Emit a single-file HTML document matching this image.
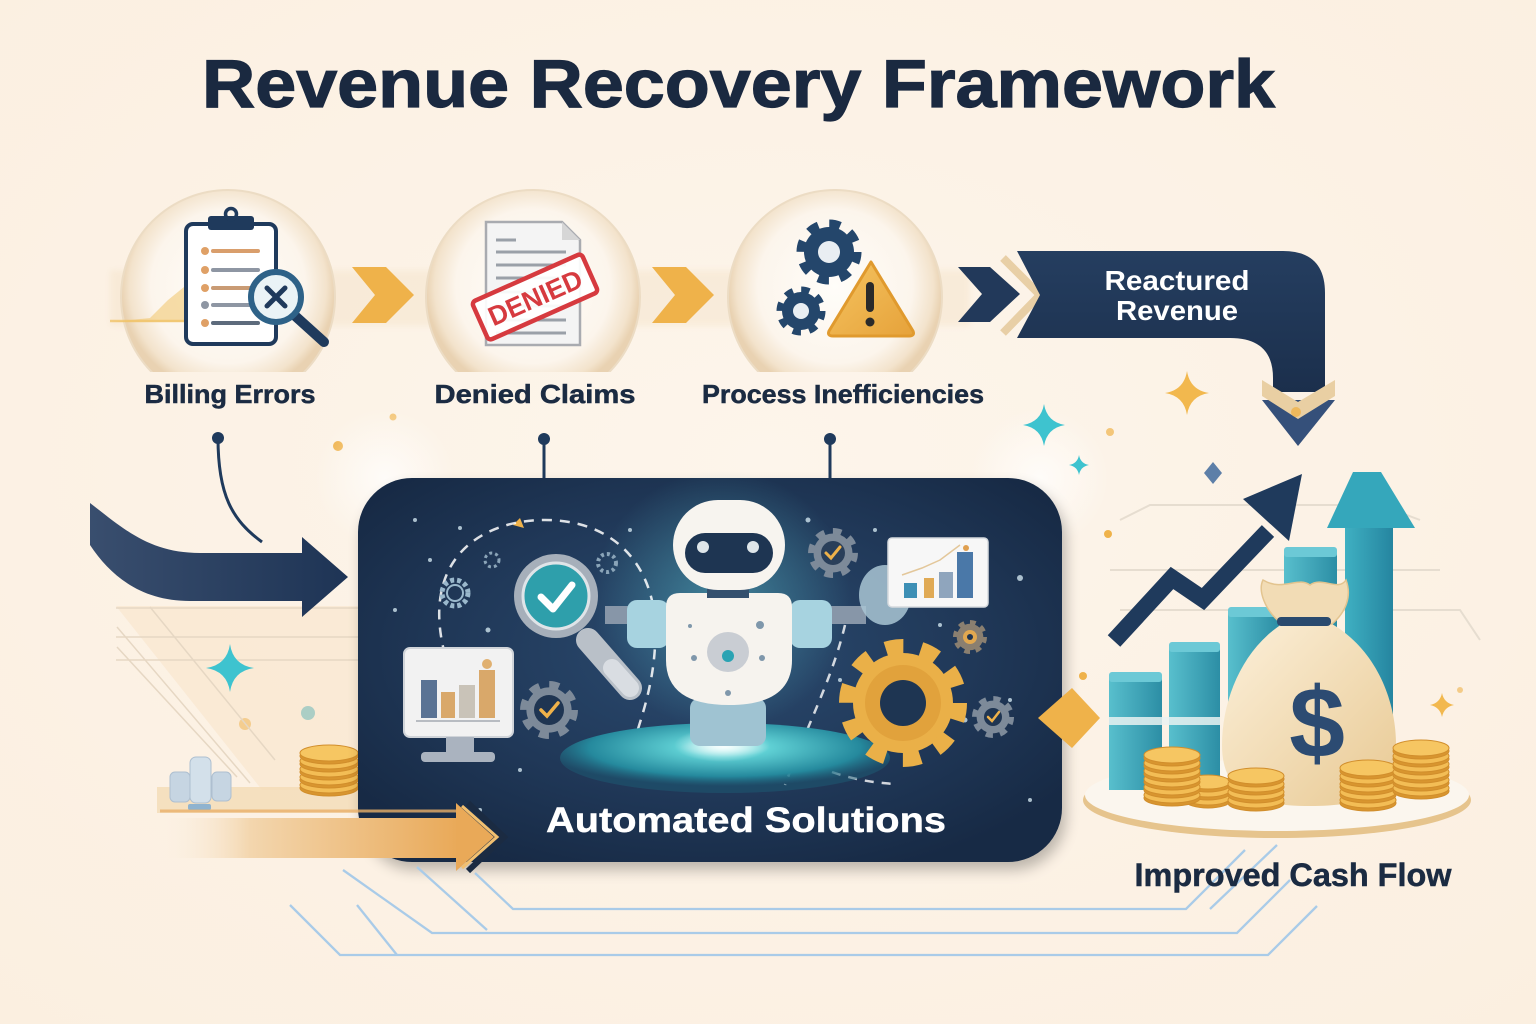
<!DOCTYPE html>
<html><head><meta charset="utf-8"><style>
html,body{margin:0;padding:0;width:1536px;height:1024px;overflow:hidden;background:#fcf1e4}
svg{display:block}
text{font-family:"Liberation Sans",Arial,sans-serif;font-weight:bold}
</style></head><body>
<svg width="1536" height="1024" viewBox="0 0 1536 1024" xmlns="http://www.w3.org/2000/svg">
<defs>
 <radialGradient id="bg" cx="50%" cy="45%" r="75%"><stop offset="0" stop-color="#fdf5eb"/><stop offset="1" stop-color="#fbefe0"/></radialGradient>
 <radialGradient id="cg" cx="50%" cy="45%" r="50%"><stop offset="0" stop-color="#fffdf9"/><stop offset="0.72" stop-color="#fcf5ec"/><stop offset="0.92" stop-color="#f3e3cc"/><stop offset="1" stop-color="#e9d2b2"/></radialGradient>
 <clipPath id="cclip"><rect x="0" y="0" width="1536" height="372"/></clipPath>
 <linearGradient id="navyH" x1="0" y1="0" x2="1" y2="0"><stop offset="0" stop-color="#394e6e"/><stop offset="1" stop-color="#1e3455"/></linearGradient>
 <linearGradient id="navyV" x1="0" y1="0" x2="0" y2="1"><stop offset="0" stop-color="#253e60"/><stop offset="1" stop-color="#1b2f4c"/></linearGradient>
 <radialGradient id="boxG" cx="50%" cy="45%" r="62%"><stop offset="0" stop-color="#2b4b70"/><stop offset="0.6" stop-color="#203858"/><stop offset="1" stop-color="#172a45"/></radialGradient>
 <radialGradient id="platG" cx="50%" cy="35%" r="55%"><stop offset="0" stop-color="#d5fbf8"/><stop offset="0.25" stop-color="#5fd0d4"/><stop offset="0.75" stop-color="#25899d"/><stop offset="1" stop-color="#1d5c75" stop-opacity="0.5"/></radialGradient>
 <radialGradient id="glowW"><stop offset="0" stop-color="#ffffff" stop-opacity="0.9"/><stop offset="1" stop-color="#ffffff" stop-opacity="0"/></radialGradient>
 <radialGradient id="glowT"><stop offset="0" stop-color="#5fd0d8" stop-opacity="0.45"/><stop offset="1" stop-color="#5fd0d8" stop-opacity="0"/></radialGradient>
 <linearGradient id="orArrow" x1="0" y1="0" x2="1" y2="0"><stop offset="0" stop-color="#fcf1e4" stop-opacity="0"/><stop offset="0.3" stop-color="#f3d6ae"/><stop offset="1" stop-color="#e9a958"/></linearGradient>
 <linearGradient id="tealBar" x1="0" y1="0" x2="1" y2="0"><stop offset="0" stop-color="#58bfcd"/><stop offset="1" stop-color="#2c8ea5"/></linearGradient>
 <linearGradient id="tealArr" x1="0" y1="0" x2="1" y2="0"><stop offset="0" stop-color="#3fb0c2"/><stop offset="1" stop-color="#2585a0"/></linearGradient>
 <linearGradient id="bagG" x1="0" y1="0" x2="1" y2="1"><stop offset="0" stop-color="#fcf0da"/><stop offset="1" stop-color="#e8c993"/></linearGradient>
 <linearGradient id="orG" x1="0" y1="0" x2="1" y2="1"><stop offset="0" stop-color="#f5c461"/><stop offset="1" stop-color="#e6a23a"/></linearGradient>
 <filter id="sh" x="-10%" y="-10%" width="120%" height="130%"><feGaussianBlur stdDeviation="7"/></filter>
 <filter id="blur3"><feGaussianBlur stdDeviation="3"/></filter>
</defs>

<rect width="1536" height="1024" fill="url(#bg)"/>

<!-- Title -->
<text x="202" y="107" font-size="68" fill="#1a2940" stroke="#1a2940" stroke-width="1.2" textLength="1073" lengthAdjust="spacingAndGlyphs">Revenue Recovery Framework</text>

<!-- band behind circles -->
<rect x="110" y="270" width="860" height="56" fill="#f4e2c8" opacity="0.45" filter="url(#blur3)"/>

<!-- Circles -->
<g clip-path="url(#cclip)">
 <circle cx="228" cy="297" r="107" fill="url(#cg)" stroke="#ecdcc4" stroke-width="2"/>
 <circle cx="533" cy="297" r="107" fill="url(#cg)" stroke="#ecdcc4" stroke-width="2"/>
 <circle cx="835" cy="297" r="107" fill="url(#cg)" stroke="#ecdcc4" stroke-width="2"/>
</g>

<!-- Circle 1 : clipboard -->
<path d="M112,322 L150,318 L168,300 L184,287 L196,300 L206,322 Z" fill="#f1c46a" opacity="0.55"/>
<line x1="110" y1="321" x2="206" y2="321" stroke="#f1c46a" stroke-width="2.5" opacity="0.8"/>
<rect x="186" y="224" width="90" height="120" rx="7" fill="#ffffff" stroke="#1f3a5c" stroke-width="4"/>
<rect x="208" y="216" width="46" height="14" rx="3" fill="#1f3a5c"/>
<circle cx="231" cy="214" r="5.5" fill="none" stroke="#1f3a5c" stroke-width="3.5"/>
<g stroke-width="4" stroke-linecap="round">
 <circle cx="205" cy="251" r="4" fill="#dfa066"/><line x1="213" y1="251" x2="258" y2="251" stroke="#d99e6c"/>
 <circle cx="205" cy="270" r="4" fill="#dfa066"/><line x1="213" y1="270" x2="258" y2="270" stroke="#8e96a3"/>
 <circle cx="205" cy="288" r="4" fill="#dfa066"/><line x1="213" y1="288" x2="250" y2="288" stroke="#c99b74"/>
 <circle cx="205" cy="305" r="4" fill="#8e96a3"/><line x1="213" y1="305" x2="250" y2="305" stroke="#8e96a3"/>
 <circle cx="205" cy="323" r="4" fill="#dfa066"/><line x1="213" y1="323" x2="258" y2="323" stroke="#5d6b7c"/>
</g>
<line x1="293" y1="314" x2="324" y2="342" stroke="#1f3a5c" stroke-width="10" stroke-linecap="round"/>
<circle cx="276" cy="297" r="25" fill="#eaf3f6" stroke="#2e6288" stroke-width="6"/>
<path d="M267,288 L285,306 M285,288 L267,306" stroke="#1f3a5c" stroke-width="5" stroke-linecap="round"/>

<!-- Circle 2 : document + stamp -->
<path d="M486,222 H562 L580,240 V345 H486 Z" fill="#f4f4f4" stroke="#a9abb0" stroke-width="2.5"/>
<path d="M562,222 V240 H580 Z" fill="#d6d6d6"/>
<g stroke="#9aa0a8" stroke-width="3">
 <line x1="496" y1="240" x2="516" y2="240"/><line x1="496" y1="252" x2="566" y2="252"/>
 <line x1="496" y1="265" x2="566" y2="265"/><line x1="496" y1="278" x2="566" y2="278"/>
 <line x1="496" y1="292" x2="566" y2="292"/><line x1="496" y1="306" x2="566" y2="306"/>
 <line x1="496" y1="320" x2="566" y2="320"/><line x1="496" y1="333" x2="566" y2="333"/>
</g>
<g transform="rotate(-24 535 297)">
 <rect x="475" y="276" width="120" height="42" rx="4" fill="#ffffff" fill-opacity="0.92" stroke="#d63a3f" stroke-width="4.5"/>
 <text x="535" y="307" font-size="27" fill="#d63a3f" text-anchor="middle" textLength="100" lengthAdjust="spacingAndGlyphs">DENIED</text>
</g>

<!-- Circle 3 : gears + warning -->
<g fill="#24466b">
 <circle cx="829" cy="252" r="25"/>
 <circle cx="829" cy="252" r="28" fill="none" stroke="#24466b" stroke-width="9" stroke-dasharray="11 11"/>
 <circle cx="801" cy="311" r="19"/>
 <circle cx="801" cy="311" r="21" fill="none" stroke="#24466b" stroke-width="7" stroke-dasharray="8.25 8.25"/>
</g>
<circle cx="829" cy="252" r="11" fill="#e9eef2"/>
<circle cx="801" cy="311" r="8" fill="#e9eef2"/>
<path d="M871,262 L913,331 Q915,336 909,336 L833,336 Q827,336 829,331 Z" fill="url(#orG)" stroke="#e09a2e" stroke-width="3" stroke-linejoin="round"/>
<rect x="866" y="282" width="8" height="30" rx="4" fill="#2a2a2a"/>
<circle cx="870" cy="322" r="4.5" fill="#2a2a2a"/>

<!-- chevrons -->
<polygon points="352,267 386,267 414,295 386,323 352,323 375,295" fill="#efb24a"/>
<polygon points="652,267 686,267 714,295 686,323 652,323 675,295" fill="#efb24a"/>
<polygon points="958,267 990,267 1020,294 990,322 958,322 982,294" fill="#22395a"/>
<polyline points="1003,258 1040,295 1003,333" fill="none" stroke="#e8cfa6" stroke-width="8"/>

<!-- Reactured Revenue banner -->
<path d="M1017,251 L1283,251 Q1325,251 1325,293 L1325,392 L1273,392 L1273,378 Q1273,338 1230,338 L1017,338 L1040,295 Z" fill="url(#navyV)"/>
<polygon points="1262,400 1335,400 1298,446" fill="#35507a"/>
<polygon points="1262,380 1298,402 1335,380 1335,396 1298,419 1262,396" fill="#e9cfa3"/>
<text x="1177" y="290" font-size="28" fill="#ffffff" text-anchor="middle" textLength="145" lengthAdjust="spacingAndGlyphs">Reactured</text>
<text x="1177" y="320" font-size="28" fill="#ffffff" text-anchor="middle" textLength="122" lengthAdjust="spacingAndGlyphs">Revenue</text>

<!-- Labels -->
<g fill="#1b2b42" stroke="#1b2b42" stroke-width="0.5">
<text x="230" y="403" font-size="26" text-anchor="middle" textLength="171" lengthAdjust="spacingAndGlyphs">Billing Errors</text>
<text x="535" y="403" font-size="26" text-anchor="middle" textLength="201" lengthAdjust="spacingAndGlyphs">Denied Claims</text>
<text x="843" y="403" font-size="26" text-anchor="middle" textLength="282" lengthAdjust="spacingAndGlyphs">Process Inefficiencies</text>
</g>

<!-- connectors -->
<g stroke="#1f3a5c" stroke-width="3" fill="none">
 <path d="M218,438 C218,495 232,520 262,542"/>
 <path d="M544,439 V480"/>
 <path d="M830,439 V480"/>
</g>
<circle cx="218" cy="438" r="6" fill="#1f3a5c"/>
<circle cx="544" cy="439" r="6" fill="#1f3a5c"/>
<circle cx="830" cy="439" r="6" fill="#1f3a5c"/>

<!-- scattered dots -->
<g fill="#efb24a">
 <circle cx="338" cy="446" r="5"/><circle cx="393" cy="417" r="3.5" opacity="0.7"/><circle cx="245" cy="724" r="6"/>
 <circle cx="1110" cy="432" r="4" opacity="0.7"/><circle cx="1296" cy="412" r="5" opacity="0.8"/><circle cx="1108" cy="534" r="4"/>
 <circle cx="1083" cy="676" r="4"/><circle cx="1460" cy="690" r="3" opacity="0.6"/>
</g>
<circle cx="308" cy="713" r="7" fill="#4fb3c2"/>

<!-- left faint area -->
<polygon points="116,606 362,606 362,790 262,790" fill="#f7e3c9" opacity="0.55"/>
<g stroke="#e6d7c3" stroke-width="1.5" fill="none">
 <line x1="116" y1="608" x2="362" y2="608"/><line x1="116" y1="637" x2="362" y2="637"/><line x1="116" y1="660" x2="362" y2="660"/>
 <line x1="117" y1="627" x2="250" y2="783"/><line x1="117" y1="647" x2="237" y2="777"/><line x1="150" y1="607" x2="275" y2="760"/>
</g>
<path d="M230,644 Q233,665 254,668 Q233,671 230,692 Q227,671 206,668 Q227,665 230,644 Z" fill="#3ec3cf"/>

<!-- left big arrow -->
<path d="M90,503 C125,530 150,553 200,553 L302,553 L302,537 L348,577 L302,617 L302,601 L190,601 C140,601 110,575 90,545 Z" fill="url(#navyH)"/>

<!-- left platform, cylinders, coins -->
<rect x="157" y="787" width="205" height="26" fill="#f3d9b3" opacity="0.75"/>
<g fill="#c6d5e2" stroke="#aebfd0" stroke-width="1">
 <rect x="170" y="772" width="20" height="30" rx="5"/>
 <rect x="212" y="772" width="19" height="29" rx="5"/>
 <rect x="190" y="757" width="21" height="46" rx="6" fill="#d3e0ea"/>
</g>
<rect x="188" y="804" width="23" height="6" rx="2" fill="#8fb3cf"/>
<g stroke="#d18e2c" stroke-width="1">
 <ellipse cx="329" cy="788" rx="29" ry="8" fill="#d8952f"/><ellipse cx="329" cy="785" rx="29" ry="8" fill="#f3bd55"/>
 <ellipse cx="329" cy="780" rx="29" ry="8" fill="#d8952f"/><ellipse cx="329" cy="777" rx="29" ry="8" fill="#f3bd55"/>
 <ellipse cx="329" cy="772" rx="29" ry="8" fill="#d8952f"/><ellipse cx="329" cy="769" rx="29" ry="8" fill="#f3bd55"/>
 <ellipse cx="329" cy="764" rx="29" ry="8" fill="#d8952f"/><ellipse cx="329" cy="761" rx="29" ry="8" fill="#f3bd55"/>
 <ellipse cx="329" cy="756" rx="29" ry="8" fill="#d8952f"/><ellipse cx="329" cy="753" rx="29" ry="8" fill="#f6c662"/>
</g>

<!-- glows near box corners -->
<circle cx="385" cy="478" r="70" fill="url(#glowW)" opacity="0.8"/>
<circle cx="1040" cy="478" r="70" fill="url(#glowW)" opacity="0.8"/>

<!-- main box -->
<rect x="362" y="486" width="704" height="384" rx="54" fill="#000" opacity="0.25" filter="url(#sh)"/>
<rect x="358" y="478" width="704" height="384" rx="54" fill="url(#boxG)"/>

<!-- box contents -->
<circle cx="722" cy="600" r="130" fill="url(#glowT)"/>
<g fill="#cfe4ee" opacity="0.8">
 <circle cx="415" cy="520" r="2"/><circle cx="430" cy="560" r="2"/><circle cx="395" cy="610" r="2"/><circle cx="488" cy="630" r="2.5"/>
 <circle cx="460" cy="528" r="2"/><circle cx="630" cy="530" r="2"/><circle cx="808" cy="520" r="2.5"/><circle cx="875" cy="530" r="2"/>
 <circle cx="1020" cy="578" r="3"/><circle cx="1010" cy="700" r="2"/><circle cx="840" cy="680" r="2"/><circle cx="940" cy="625" r="2"/>
 <circle cx="520" cy="770" r="2"/><circle cx="480" cy="810" r="2"/><circle cx="1030" cy="800" r="2"/><circle cx="610" cy="660" r="3" fill="#5ccfd6"/>
 <circle cx="455" cy="650" r="3" fill="#d8b77a"/><circle cx="965" cy="720" r="2.5"/>
</g>
<path d="M513,525 L520,518 L524,528 Z" fill="#efb24a"/>

<!-- dashed arcs -->
<path d="M445,655 C420,560 480,520 545,520 C610,520 650,560 655,620 C658,680 640,720 625,770" fill="none" stroke="#ffffff" stroke-opacity="0.85" stroke-width="2.5" stroke-dasharray="10 8"/>
<path d="M845,625 C832,680 805,730 785,785" fill="none" stroke="#ffffff" stroke-opacity="0.8" stroke-width="2.5" stroke-dasharray="9 8"/>
<path d="M832,772 Q860,782 895,784" fill="none" stroke="#ffffff" stroke-opacity="0.8" stroke-width="2.5" stroke-dasharray="9 8"/>

<!-- small outline gears -->
<circle cx="455" cy="593" r="13" fill="none" stroke="#9ab8cc" stroke-width="5" stroke-dasharray="4 3"/>
<circle cx="455" cy="593" r="8" fill="none" stroke="#9ab8cc" stroke-width="2"/>
<circle cx="607" cy="563" r="9" fill="none" stroke="#8aa4b8" stroke-width="4" stroke-dasharray="3 3"/>
<circle cx="492" cy="560" r="7" fill="none" stroke="#8aa4b8" stroke-width="3" stroke-dasharray="3 3"/>

<!-- platform -->
<ellipse cx="725" cy="758" rx="165" ry="35" fill="url(#platG)"/>
<ellipse cx="722" cy="745" rx="48" ry="17" fill="url(#glowW)"/>

<!-- magnifier -->
<line x1="588" y1="640" x2="630" y2="688" stroke="#b9c0c8" stroke-width="24" stroke-linecap="round"/>
<line x1="612" y1="668" x2="630" y2="688" stroke="#d9dde2" stroke-width="18" stroke-linecap="round"/>
<circle cx="556" cy="596" r="42" fill="#a6afba"/>
<circle cx="556" cy="596" r="33" fill="#2e9fab" stroke="#dfe4e8" stroke-width="3"/>
<path d="M541,597 L553,609 L572,585" fill="none" stroke="#ffffff" stroke-width="7" stroke-linecap="round" stroke-linejoin="round"/>

<!-- robot -->
<rect x="690" y="698" width="76" height="48" rx="10" fill="#9fc3d2"/>
<rect x="605" y="606" width="26" height="18" fill="#8796a8"/>
<rect x="828" y="606" width="38" height="18" fill="#8796a8"/>
<ellipse cx="885" cy="595" rx="26" ry="30" fill="#a9c6d4" opacity="0.85"/>
<rect x="627" y="600" width="42" height="48" rx="10" fill="#a7d3e0"/>
<rect x="790" y="600" width="42" height="48" rx="10" fill="#a7d3e0"/>
<path d="M680,593 H778 Q792,593 792,607 V660 Q792,705 729,705 Q666,705 666,660 V607 Q666,593 680,593 Z" fill="#f6f3ee"/>
<rect x="707" y="584" width="42" height="14" fill="#34506e"/>
<rect x="673" y="500" width="112" height="90" rx="45" fill="#f7f4ef"/>
<rect x="685" y="533" width="88" height="40" rx="20" fill="#1e3552"/>
<circle cx="703" cy="547" r="6" fill="#dfe6ea"/>
<circle cx="753" cy="547" r="6" fill="#dfe6ea"/>
<ellipse cx="728" cy="652" rx="21" ry="20" fill="#c9cdd3"/>
<circle cx="728" cy="656" r="6" fill="#2aa3b3"/>
<g fill="#7f97ab"><circle cx="694" cy="658" r="3"/><circle cx="762" cy="658" r="3"/><circle cx="760" cy="625" r="4"/><circle cx="728" cy="693" r="3"/><circle cx="690" cy="626" r="2"/></g>

<!-- left monitor -->
<rect x="404" y="648" width="109" height="89" rx="6" fill="#f2f2f2" stroke="#d0d4d9" stroke-width="2"/>
<rect x="421" y="680" width="16" height="38" fill="#5a7394"/>
<rect x="441" y="692" width="14" height="26" fill="#d9a86a"/>
<rect x="459" y="685" width="16" height="33" fill="#c9c3b8"/>
<rect x="479" y="670" width="16" height="48" fill="#d9a86a"/>
<circle cx="487" cy="664" r="5" fill="#e0b070"/>
<line x1="416" y1="721" x2="500" y2="721" stroke="#b8bcc2" stroke-width="2"/>
<rect x="446" y="737" width="28" height="17" fill="#aab3bf"/>
<rect x="421" y="752" width="74" height="10" rx="4" fill="#aab3bf"/>

<!-- right chart card -->
<rect x="888" y="538" width="100" height="69" rx="4" fill="#f7f7f7" stroke="#d6dade" stroke-width="1.5"/>
<rect x="904" y="583" width="13" height="15" fill="#3d8fb5"/>
<rect x="924" y="578" width="10" height="20" fill="#e0aa55"/>
<rect x="939" y="572" width="14" height="26" fill="#8fa5bd"/>
<rect x="957" y="552" width="16" height="46" fill="#4a78a8"/>
<polyline points="902,575 922,568 940,560 960,545" fill="none" stroke="#e3c79a" stroke-width="1.5"/>
<circle cx="966" cy="548" r="3" fill="#e0a050"/>

<!-- gears with checks -->
<g>
 <circle cx="549" cy="710" r="22.6" fill="#7d8a99"/>
 <circle cx="549" cy="710" r="25.2" fill="none" stroke="#7d8a99" stroke-width="7.5" stroke-dasharray="9.9 9.9"/>
 <circle cx="549" cy="710" r="15" fill="#1f3552"/>
 <path d="M541,710 L547,716 L558,703" fill="none" stroke="#efb24a" stroke-width="3.5" stroke-linecap="round"/>
</g>
<g>
 <circle cx="833" cy="553" r="19.5" fill="#7d8a99"/>
 <circle cx="833" cy="553" r="21.7" fill="none" stroke="#7d8a99" stroke-width="6.5" stroke-dasharray="8.5 8.5"/>
 <circle cx="833" cy="553" r="12" fill="#2a3f5a"/>
 <path d="M826,553 L831,558 L840,547" fill="none" stroke="#efb24a" stroke-width="3" stroke-linecap="round"/>
</g>
<g>
 <circle cx="993" cy="717" r="16.4" fill="#7d8a99"/>
 <circle cx="993" cy="717" r="18.3" fill="none" stroke="#7d8a99" stroke-width="5.5" stroke-dasharray="7.2 7.2"/>
 <circle cx="993" cy="717" r="9" fill="#1f3552"/>
 <path d="M988,717 L992,721 L999,712" fill="none" stroke="#efb24a" stroke-width="2.5" stroke-linecap="round"/>
</g>
<g>
 <circle cx="970" cy="637" r="13.3" fill="#8a7f70"/>
 <circle cx="970" cy="637" r="14.8" fill="none" stroke="#8a7f70" stroke-width="4.4" stroke-dasharray="5.8 5.8"/>
 <circle cx="970" cy="637" r="7" fill="#e1a850"/>
 <circle cx="970" cy="637" r="3" fill="#1f3552"/>
</g>
<!-- big orange gear -->
<g>
 <circle cx="903" cy="703" r="50" fill="#eab048"/>
 <circle cx="903" cy="703" r="56" fill="none" stroke="#eab048" stroke-width="16" stroke-dasharray="17.6 17.6"/>
 <circle cx="903" cy="703" r="38" fill="#e1a23c"/>
 <circle cx="903" cy="703" r="23" fill="#1e3552"/>
</g>

<text x="746" y="832" font-size="35" fill="#ffffff" stroke="#ffffff" stroke-width="0.4" text-anchor="middle" textLength="400" lengthAdjust="spacingAndGlyphs">Automated Solutions</text>

<!-- orange arrow bottom-left -->
<rect x="160" y="818" width="300" height="40" fill="url(#orArrow)"/>
<line x1="160" y1="811" x2="460" y2="811" stroke="#eab069" stroke-width="3" opacity="0.8"/>
<polygon points="456,803 494,837 456,871" fill="#e9a958"/>
<polyline points="468,803 504,837 468,871" fill="none" stroke="#1b2b42" stroke-width="6"/>
<polyline points="462,806 497,837 462,868" fill="none" stroke="#f2c070" stroke-width="3"/>

<!-- bottom blue lines -->
<g stroke="#a9cbe8" stroke-width="2.3" fill="none">
 <polyline points="475,873 513,909 1186,909 1245,850"/>
 <polyline points="1210,909 1277,845"/>
 <polyline points="343,870 432,933 1237,933 1290,880"/>
 <polyline points="290,905 340,955 1268,955 1317,906"/>
 <polyline points="357,905 397,955"/>
 <polyline points="417,867 487,930"/>
</g>

<!-- sparkles -->
<path d="M1187,371 Q1190,390 1209,393 Q1190,396 1187,415 Q1184,396 1165,393 Q1184,390 1187,371 Z" fill="#f2b84e"/>
<path d="M1044,404 Q1047,422 1065,425 Q1047,428 1044,446 Q1041,428 1023,425 Q1041,422 1044,404 Z" fill="#3ec3cf"/>
<path d="M1079,455 Q1080.5,463.5 1089,465 Q1080.5,466.5 1079,475 Q1077.5,466.5 1069,465 Q1077.5,463.5 1079,455 Z" fill="#3ec3cf"/>
<path d="M1213,462 L1222,473 L1213,484 L1204,473 Z" fill="#5d7fa8"/>
<path d="M1442,693 Q1444,703 1454,705 Q1444,707 1442,717 Q1440,707 1430,705 Q1440,703 1442,693 Z" fill="#f2b84e"/>

<!-- right side faint lines -->
<g stroke="#e6ddd0" stroke-width="2" fill="none">
 <polyline points="1120,520 1150,505 1380,505 1420,520"/>
 <polyline points="1110,570 1440,570"/>
 <polyline points="1120,610 1460,610 1480,640"/>
</g>

<!-- orange diamond -->
<polygon points="1038,718 1072,688 1100,718 1072,748" fill="#efb24a"/>

<!-- plate -->
<ellipse cx="1277" cy="800" rx="194" ry="38" fill="#e6c48d"/>
<ellipse cx="1277" cy="795" rx="192" ry="36" fill="#fbf6ee"/>

<!-- bars -->
<rect x="1109" y="677" width="53" height="113" fill="url(#tealBar)"/>
<rect x="1109" y="672" width="53" height="10" rx="3" fill="#6cc9d6"/>
<rect x="1169" y="647" width="51" height="143" fill="url(#tealBar)"/>
<rect x="1169" y="642" width="51" height="10" rx="3" fill="#6cc9d6"/>
<rect x="1228" y="612" width="51" height="178" fill="url(#tealBar)"/>
<rect x="1228" y="607" width="51" height="10" rx="3" fill="#6cc9d6"/>
<rect x="1284" y="552" width="53" height="238" fill="url(#tealBar)"/>
<rect x="1284" y="547" width="53" height="10" rx="3" fill="#6cc9d6"/>
<rect x="1109" y="717" width="111" height="8" fill="#e9f2f1" opacity="0.85"/>

<!-- tall teal arrow -->
<rect x="1345" y="525" width="48" height="200" fill="url(#tealArr)"/>
<polygon points="1327,528 1353,472 1381,472 1415,528" fill="#35a7bb"/>

<!-- zigzag arrow -->
<polyline points="1114,641 1172,578 1203,599 1268,531" fill="none" stroke="#1f3a5c" stroke-width="17" stroke-linejoin="miter"/>
<polygon points="1302,474 1243,499 1289,541" fill="#1f3a5c"/>

<!-- money bag -->
<path d="M1282,624 C1242,650 1222,700 1222,745 C1222,792 1252,806 1310,806 C1370,806 1396,792 1396,745 C1396,700 1376,650 1332,624 Z" fill="url(#bagG)"/>
<path d="M1282,624 C1264,610 1258,590 1263,580 C1283,592 1298,576 1310,585 C1322,576 1338,592 1346,580 C1352,596 1346,612 1332,624 Z" fill="#f2dcb5" stroke="#e3c48f" stroke-width="1.5"/>
<rect x="1277" y="617" width="54" height="9" rx="4" fill="#2a4a6e"/>
<text x="1317" y="757" font-size="100" fill="#2c4b72" text-anchor="middle">$</text>

<!-- coin stacks -->
<g stroke="#d18e2c" stroke-width="1">
 <ellipse cx="1208" cy="801" rx="22" ry="7" fill="#d8952f"/><ellipse cx="1208" cy="798" rx="22" ry="7" fill="#f3bd55"/>
 <ellipse cx="1208" cy="793" rx="22" ry="7" fill="#d8952f"/><ellipse cx="1208" cy="790" rx="22" ry="7" fill="#f3bd55"/>
 <ellipse cx="1208" cy="785" rx="22" ry="7" fill="#d8952f"/><ellipse cx="1208" cy="782" rx="22" ry="7" fill="#f6c662"/>
 <ellipse cx="1172" cy="798" rx="28" ry="8" fill="#d8952f"/><ellipse cx="1172" cy="795" rx="28" ry="8" fill="#f3bd55"/>
 <ellipse cx="1172" cy="790" rx="28" ry="8" fill="#d8952f"/><ellipse cx="1172" cy="787" rx="28" ry="8" fill="#f3bd55"/>
 <ellipse cx="1172" cy="782" rx="28" ry="8" fill="#d8952f"/><ellipse cx="1172" cy="779" rx="28" ry="8" fill="#f3bd55"/>
 <ellipse cx="1172" cy="774" rx="28" ry="8" fill="#d8952f"/><ellipse cx="1172" cy="771" rx="28" ry="8" fill="#f3bd55"/>
 <ellipse cx="1172" cy="766" rx="28" ry="8" fill="#d8952f"/><ellipse cx="1172" cy="763" rx="28" ry="8" fill="#f3bd55"/>
 <ellipse cx="1172" cy="758" rx="28" ry="8" fill="#d8952f"/><ellipse cx="1172" cy="755" rx="28" ry="8" fill="#f6c662"/>
 <ellipse cx="1256" cy="803" rx="28" ry="8" fill="#d8952f"/><ellipse cx="1256" cy="800" rx="28" ry="8" fill="#f3bd55"/>
 <ellipse cx="1256" cy="795" rx="28" ry="8" fill="#d8952f"/><ellipse cx="1256" cy="792" rx="28" ry="8" fill="#f3bd55"/>
 <ellipse cx="1256" cy="787" rx="28" ry="8" fill="#d8952f"/><ellipse cx="1256" cy="784" rx="28" ry="8" fill="#f3bd55"/>
 <ellipse cx="1256" cy="779" rx="28" ry="8" fill="#d8952f"/><ellipse cx="1256" cy="776" rx="28" ry="8" fill="#f6c662"/>
 <ellipse cx="1368" cy="803" rx="28" ry="8" fill="#d8952f"/><ellipse cx="1368" cy="800" rx="28" ry="8" fill="#f3bd55"/>
 <ellipse cx="1368" cy="795" rx="28" ry="8" fill="#d8952f"/><ellipse cx="1368" cy="792" rx="28" ry="8" fill="#f3bd55"/>
 <ellipse cx="1368" cy="787" rx="28" ry="8" fill="#d8952f"/><ellipse cx="1368" cy="784" rx="28" ry="8" fill="#f3bd55"/>
 <ellipse cx="1368" cy="779" rx="28" ry="8" fill="#d8952f"/><ellipse cx="1368" cy="776" rx="28" ry="8" fill="#f3bd55"/>
 <ellipse cx="1368" cy="771" rx="28" ry="8" fill="#d8952f"/><ellipse cx="1368" cy="768" rx="28" ry="8" fill="#f6c662"/>
 <ellipse cx="1421" cy="791" rx="28" ry="8" fill="#d8952f"/><ellipse cx="1421" cy="788" rx="28" ry="8" fill="#f3bd55"/>
 <ellipse cx="1421" cy="783" rx="28" ry="8" fill="#d8952f"/><ellipse cx="1421" cy="780" rx="28" ry="8" fill="#f3bd55"/>
 <ellipse cx="1421" cy="775" rx="28" ry="8" fill="#d8952f"/><ellipse cx="1421" cy="772" rx="28" ry="8" fill="#f3bd55"/>
 <ellipse cx="1421" cy="767" rx="28" ry="8" fill="#d8952f"/><ellipse cx="1421" cy="764" rx="28" ry="8" fill="#f3bd55"/>
 <ellipse cx="1421" cy="759" rx="28" ry="8" fill="#d8952f"/><ellipse cx="1421" cy="756" rx="28" ry="8" fill="#f3bd55"/>
 <ellipse cx="1421" cy="751" rx="28" ry="8" fill="#d8952f"/><ellipse cx="1421" cy="748" rx="28" ry="8" fill="#f6c662"/>
</g>

<text x="1293" y="886" font-size="32" fill="#1b2b42" stroke="#1b2b42" stroke-width="0.5" text-anchor="middle" textLength="317" lengthAdjust="spacingAndGlyphs">Improved Cash Flow</text>
</svg>
</body></html>
